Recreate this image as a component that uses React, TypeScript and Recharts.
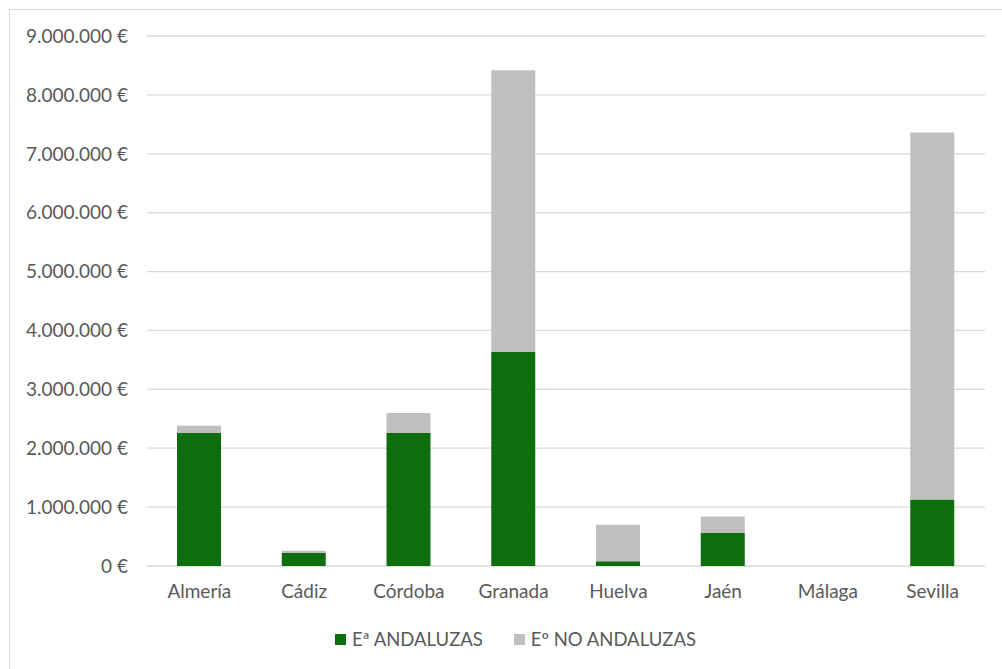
import React from "react";
import { BarChart, Bar, XAxis, YAxis, CartesianGrid, Legend } from "recharts";

// provinces and investment (€) per type of company
const provinces = ["Almería", "Cádiz", "Córdoba", "Granada", "Huelva", "Jaén", "Málaga", "Sevilla"];
const andaluzas = [2260000, 220000, 2260000, 3640000, 80000, 560000, 0, 1130000];
const noAndaluzas = [120000, 40000, 340000, 4780000, 620000, 280000, 0, 6230000];
const yTicks = [0, 1000000, 2000000, 3000000, 4000000, 5000000, 6000000, 7000000, 8000000, 9000000];

const GREEN = "#0c6e0c";
const GREY = "#bfbfbf";
const TEXT = "#595959";
const FONT = "Lato, 'Open Sans', sans-serif";

const data = provinces.map((name, i) => ({
  name,
  andaluzas: andaluzas[i],
  noAndaluzas: noAndaluzas[i]
}));

const formatEuro = (v: number) => v.toLocaleString("de-DE") + " €";

const LegendContent = () => (
  <div
    style={{
      display: "flex",
      justifyContent: "center",
      alignItems: "center",
      height: 24,
      paddingLeft: 46,
      fontFamily: FONT,
      fontSize: 18.5,
      color: TEXT
    }}
  >
    <span style={{ display: "inline-block", width: 11, height: 11, background: GREEN, marginRight: 6 }} />
    <span style={{ marginRight: 31 }}>Eª ANDALUZAS</span>
    <span style={{ display: "inline-block", width: 11, height: 11, background: GREY, marginRight: 6 }} />
    <span>Eº NO ANDALUZAS</span>
  </div>
);

export default function App() {
  return (
    <div style={{ position: "absolute", left: 0, top: 0, width: 1002, height: 669, background: "#fff", overflow: "hidden" }}>
      {/* frame */}
      <div
        style={{
          position: "absolute",
          left: 9,
          top: 9,
          width: 1010,
          height: 680,
          border: "1px solid #d9d9d9"
        }}
      />
      <div style={{ position: "absolute", left: 0, top: 0 }}>
        <BarChart
          width={1002}
          height={669}
          data={data}
          margin={{ top: 36, right: 17, left: 0, bottom: 18 }}
          barSize={44}
        >
          <CartesianGrid vertical={false} stroke="#d9d9d9" strokeWidth={1.3} />
          <XAxis
            dataKey="name"
            height={61}
            axisLine={false}
            tickLine={false}
            tickSize={0}
            tickMargin={19}
            interval={0}
            tick={{ fill: TEXT, fontSize: 19, fontFamily: FONT }}
          />
          <YAxis
            width={147}
            domain={[0, 9000000]}
            ticks={yTicks}
            interval={0}
            axisLine={false}
            tickLine={false}
            tickSize={0}
            tickMargin={19}
            tickFormatter={formatEuro}
            tick={{ fill: TEXT, fontSize: 19, fontFamily: FONT }}
          />
          <Legend verticalAlign="bottom" content={<LegendContent />} />
          <Bar dataKey="andaluzas" stackId="a" fill={GREEN} isAnimationActive={false} />
          <Bar dataKey="noAndaluzas" stackId="a" fill={GREY} isAnimationActive={false} />
        </BarChart>
      </div>
    </div>
  );
}
